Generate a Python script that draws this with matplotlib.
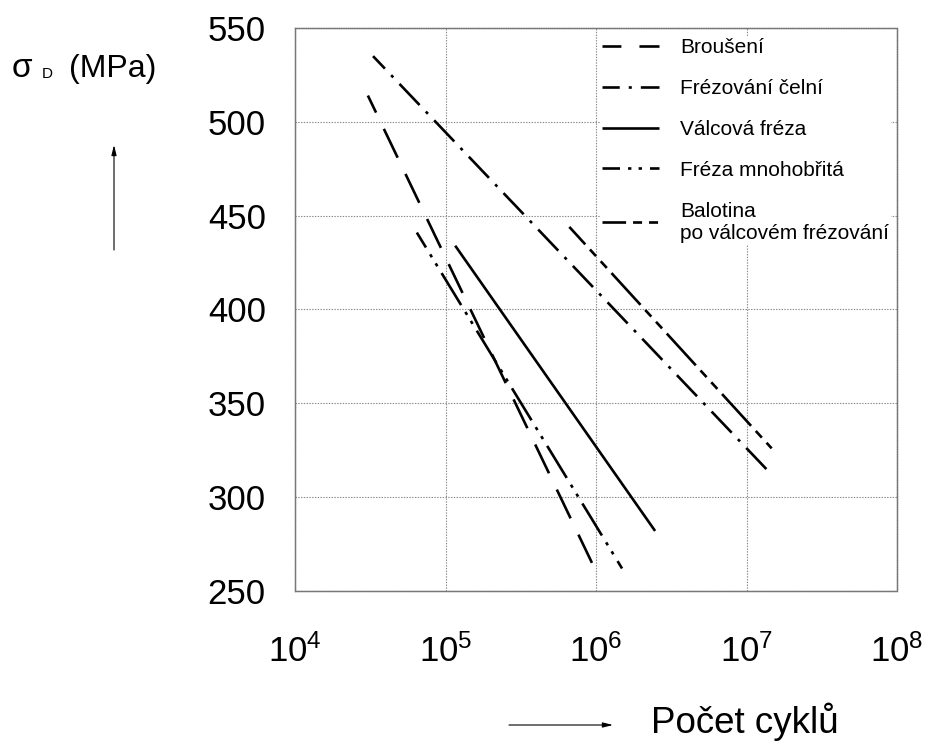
import matplotlib
matplotlib.use("Agg")
import matplotlib.pyplot as plt

plt.rcParams['font.family'] = ['Liberation Sans', 'DejaVu Sans']
plt.rcParams['mathtext.fontset'] = 'custom'
plt.rcParams['mathtext.rm'] = 'Liberation Sans'
plt.rcParams['mathtext.it'] = 'Liberation Sans:italic'
plt.rcParams['lines.scale_dashes'] = False

# ---- data ----
labels = ["Broušení", "Frézování čelní", "Válcová fréza", "Fréza mnohobřitá",
          "Balotina\npo válcovém frézování"]
brouseni_N = [3.05e4, 9.4e5]
brouseni_s = [514, 265]
celni_N = [3.3e4, 1.47e7]
celni_s = [535, 312]
valcova_N = [1.16e5, 2.47e6]
valcova_s = [434, 282]
mnohobrita_N = [6.45e4, 1.49e6]
mnohobrita_s = [441, 262]
balotina_N = [6.65e5, 1.47e7]
balotina_s = [444, 326]

x_ticks = [1e4, 1e5, 1e6, 1e7, 1e8]
x_ticklabels = [r'$\mathregular{10^{4}}$', r'$\mathregular{10^{5}}$', r'$\mathregular{10^{6}}$',
                r'$\mathregular{10^{7}}$', r'$\mathregular{10^{8}}$']
y_ticks = [250, 300, 350, 400, 450, 500, 550]

W, H = 938, 744
fig = plt.figure(figsize=(W / 100, H / 100), dpi=100)
ax = fig.add_axes([295 / W, 1 - 591 / H, (897 - 295) / W, (591 - 28) / H])

lw = 1.9
styles = [
    (9.4, (23, 13)),
    (8.6, (21, 6.5, 2.2, 6.5)),
    '-',
    (14.4, (27, 5.8, 2.4, 5.2, 2.4, 5.8)),
    (14, (31, 5, 6.5, 5, 6.5, 5)),
]
series = [(brouseni_N, brouseni_s), (celni_N, celni_s), (valcova_N, valcova_s),
          (mnohobrita_N, mnohobrita_s), (balotina_N, balotina_s)]
for (n, s), ls, lab in zip(series, styles, labels):
    ax.plot(n, s, color='black', lw=lw, linestyle=ls, label=lab, solid_capstyle='butt',
            dash_capstyle='butt')

ax.set_xscale('log')
ax.set_xlim(1e4, 1e8)
ax.set_ylim(250, 550)
ax.set_xticks(x_ticks)
ax.set_xticklabels(x_ticklabels)
ax.set_yticks(y_ticks)
ax.minorticks_off()
ax.tick_params(axis='both', length=0, labelsize=25)
ax.tick_params(axis='y', pad=21)
ax.tick_params(axis='x', pad=31)
ax.grid(True, color='#8a8a8a', linestyle=(0, (1, 1)), linewidth=0.8)
for sp in ax.spines.values():
    sp.set_color('#777777')
    sp.set_linestyle((0, (1, 0.6)))
    sp.set_linewidth(1.0)

leg = ax.legend(loc='upper left', bbox_to_anchor=((600 - 295) / 602, 1 - 8 / 563),
                fontsize=15, handlelength=2.75, handletextpad=1.0, labelspacing=1.05,
                frameon=True, fancybox=False, framealpha=1, edgecolor='none',
                facecolor='white', borderpad=0.1, borderaxespad=0)

# y label: sigma_D (MPa) with arrow
fig.text(12 / W, 1 - 77 / H, "σ", fontsize=24, ha='left', va='baseline')
fig.text(42 / W, 1 - 78 / H, "D", fontsize=11, ha='left', va='baseline')
fig.text(69 / W, 1 - 77 / H, "(MPa)", fontsize=23, ha='left', va='baseline')
ax.annotate('', xy=(114, H - 145), xytext=(114, H - 250), xycoords='figure pixels',
            textcoords='figure pixels',
            arrowprops=dict(arrowstyle='-|>,head_length=0.6,head_width=0.15', lw=0.8,
                            color='black', shrinkA=0, shrinkB=0))

# x label with arrow
fig.text(651 / W, 1 - 733 / H, "Počet cyklů", fontsize=26.5, ha='left', va='baseline')
ax.annotate('', xy=(613, H - 725), xytext=(509, H - 725), xycoords='figure pixels',
            textcoords='figure pixels',
            arrowprops=dict(arrowstyle='-|>,head_length=0.6,head_width=0.15', lw=0.8,
                            color='black', shrinkA=0, shrinkB=0))

fig.savefig('out.png', dpi=100)
